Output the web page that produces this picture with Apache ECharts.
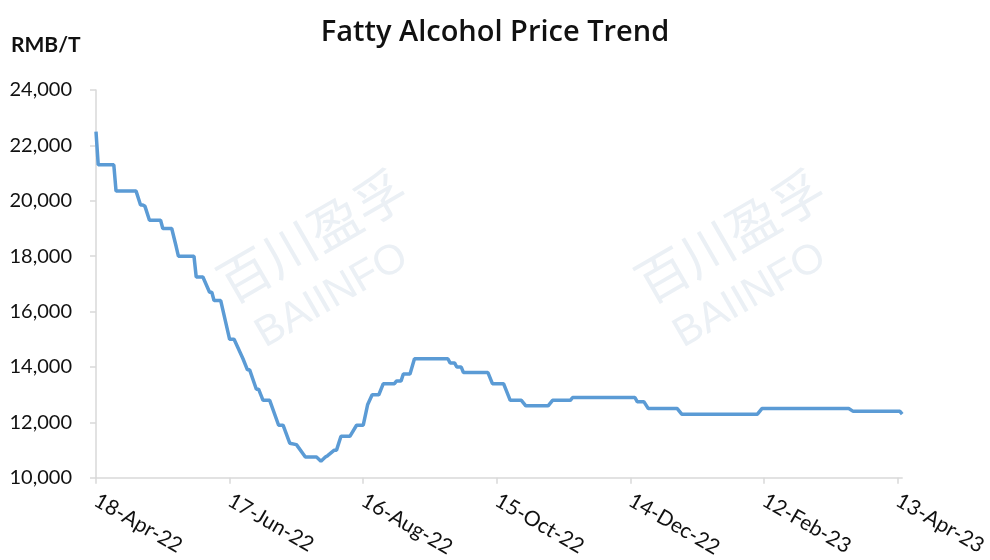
<!DOCTYPE html>
<html>
<head>
<meta charset="utf-8">
<title>Fatty Alcohol Price Trend</title>
<script src="https://cdn.jsdelivr.net/npm/echarts@6/dist/echarts.min.js"></script>
<style>
	html, body { margin: 0; padding: 0; background: #fff; }
	#chart { width: 990px; height: 560px; }
</style>
</head>
<body>
<div id="chart"></div>
<script>
// price turning points (RMB/T)
var priceDates = [
	'2022-04-18', '2022-04-19', '2022-04-26', '2022-04-27', '2022-05-06', '2022-05-08',
	'2022-05-09', '2022-05-10', '2022-05-12', '2022-05-17', '2022-05-18', '2022-05-22',
	'2022-05-24', '2022-05-25', '2022-06-01', '2022-06-02', '2022-06-05', '2022-06-08',
	'2022-06-09', '2022-06-10', '2022-06-13', '2022-06-17', '2022-06-19', '2022-06-23',
	'2022-06-25', '2022-06-26', '2022-06-29', '2022-06-30', '2022-07-02', '2022-07-05',
	'2022-07-09', '2022-07-11', '2022-07-14', '2022-07-17', '2022-07-21', '2022-07-26',
	'2022-07-28', '2022-07-30', '2022-07-31', '2022-08-03', '2022-08-04', '2022-08-06',
	'2022-08-10', '2022-08-13', '2022-08-16', '2022-08-18', '2022-08-20', '2022-08-23',
	'2022-08-25', '2022-08-30', '2022-08-31', '2022-09-02', '2022-09-03', '2022-09-06',
	'2022-09-08', '2022-09-23', '2022-09-24', '2022-09-26', '2022-09-27', '2022-09-29',
	'2022-09-30', '2022-10-11', '2022-10-13', '2022-10-18', '2022-10-21', '2022-10-26',
	'2022-10-28', '2022-11-07', '2022-11-09', '2022-11-17', '2022-11-18', '2022-12-16',
	'2022-12-17', '2022-12-20', '2022-12-22', '2023-01-04', '2023-01-06', '2023-02-09',
	'2023-02-11', '2023-03-22', '2023-03-24', '2023-04-14', '2023-04-15'
];
var prices = [
	22500, 21300, 21300, 20350, 20350, 19850,
	19850, 19800, 19300, 19300, 19000, 19000,
	18350, 18000, 18000, 17250, 17250, 16700,
	16700, 16400, 16400, 15000, 15000, 14300,
	13900, 13900, 13200, 13200, 12800, 12800,
	11900, 11900, 11250, 11200, 10750, 10750,
	10600, 10750, 10800, 11000, 11000, 11500,
	11500, 11900, 11900, 12650, 13000, 13000,
	13400, 13400, 13500, 13500, 13750, 13750,
	14300, 14300, 14150, 14150, 14000, 14000,
	13800, 13800, 13400, 13400, 12800, 12800,
	12600, 12600, 12800, 12800, 12900, 12900,
	12750, 12750, 12500, 12500, 12300, 12300,
	12500, 12500, 12400, 12400, 12300
];
var xTickDates = ['2022-04-18', '2022-06-17', '2022-08-16', '2022-10-15', '2022-12-14', '2023-02-12', '2023-04-13'];
var xTickLabels = ['18-Apr-22', '17-Jun-22', '16-Aug-22', '15-Oct-22', '14-Dec-22', '12-Feb-23', '13-Apr-23'];
var yTicks = [10000, 12000, 14000, 16000, 18000, 20000, 22000, 24000];

var startDate = xTickDates[0];

// days since the first date, so the x axis can tick every 60 days
function dayOf(s) {
	var a = s.split('-'), b = startDate.split('-');
	return Math.round((Date.UTC(+a[0], a[1] - 1, +a[2]) - Date.UTC(+b[0], b[1] - 1, +b[2])) / 86400000);
}

var tickDays = xTickDates.map(dayOf);
var seriesData = priceDates.map(function(d, i) {
	return [dayOf(d), prices[i]];
});

var font = 'Lato, "Noto Sans", sans-serif';
var axisGray = '#d9d9d9';
var markColor = '#ebf0f5';

function watermark(cx, cy) {
	return [{
		type: 'text', x: cx, y: cy - 28, rotation: Math.PI / 6, z: 0, silent: true,
		style: { text: '百川盈孚', font: '52px "Noto Sans CJK SC"', fill: markColor, align: 'center', verticalAlign: 'middle' }
	}, {
		type: 'text', x: cx + 20, y: cy + 32, rotation: Math.PI / 6, z: 0, silent: true,
		style: { text: 'BAIINFO', font: '42px "Liberation Sans"', fill: markColor, align: 'center', verticalAlign: 'middle' }
	}];
}

var myChart = echarts.init(document.getElementById('chart'));
var option = {
	animation: false,
	backgroundColor: '#fff',
	title: {
		text: 'Fatty Alcohol Price Trend',
		left: 'center',
		top: 13,
		textStyle: { fontFamily: '"Open Sans", sans-serif', fontSize: 29, fontWeight: 600, color: '#111' }
	},
	graphic: watermark(312, 264).concat(watermark(730, 264)).concat([{
		type: 'text', left: 11, top: 35,
		style: { text: 'RMB/T', font: 'bold 21px ' + font, fill: '#111' }
	}]),
	grid: { left: 96, right: 87.5, top: 90, bottom: 79, containLabel: false },
	xAxis: {
		type: 'value',
		min: 0,
		max: 362,
		splitLine: { show: false },
		axisLine: { lineStyle: { color: axisGray, width: 1.5 } },
		axisTick: { customValues: tickDays, length: 6, lineStyle: { color: axisGray, width: 1.5 } },
		axisLabel: {
			customValues: tickDays,
			rotate: -30,
			margin: 21,
			fontFamily: font,
			fontSize: 21,
			color: '#111',
			formatter: function(v) {
				var i = tickDays.indexOf(v);
				return i >= 0 ? xTickLabels[i] : '';
			}
		}
	},
	yAxis: {
		type: 'value',
		min: yTicks[0],
		max: yTicks[yTicks.length - 1],
		interval: 2000,
		splitLine: { show: false },
		axisLine: { show: true, lineStyle: { color: axisGray, width: 1.5 } },
		axisTick: { show: true, length: 6, lineStyle: { color: axisGray, width: 1.5 } },
		axisLabel: {
			margin: 24,
			fontFamily: font,
			fontSize: 20,
			color: '#111',
			formatter: function(v) {
				return v.toLocaleString('en-US');
			}
		}
	},
	series: [{
		name: 'Fatty Alcohol',
		type: 'line',
		data: seriesData,
		showSymbol: false,
		z: 5,
		lineStyle: { color: '#5b9bd5', width: 3.5 }
	}]
};
myChart.setOption(option);
</script>
</body>
</html>
